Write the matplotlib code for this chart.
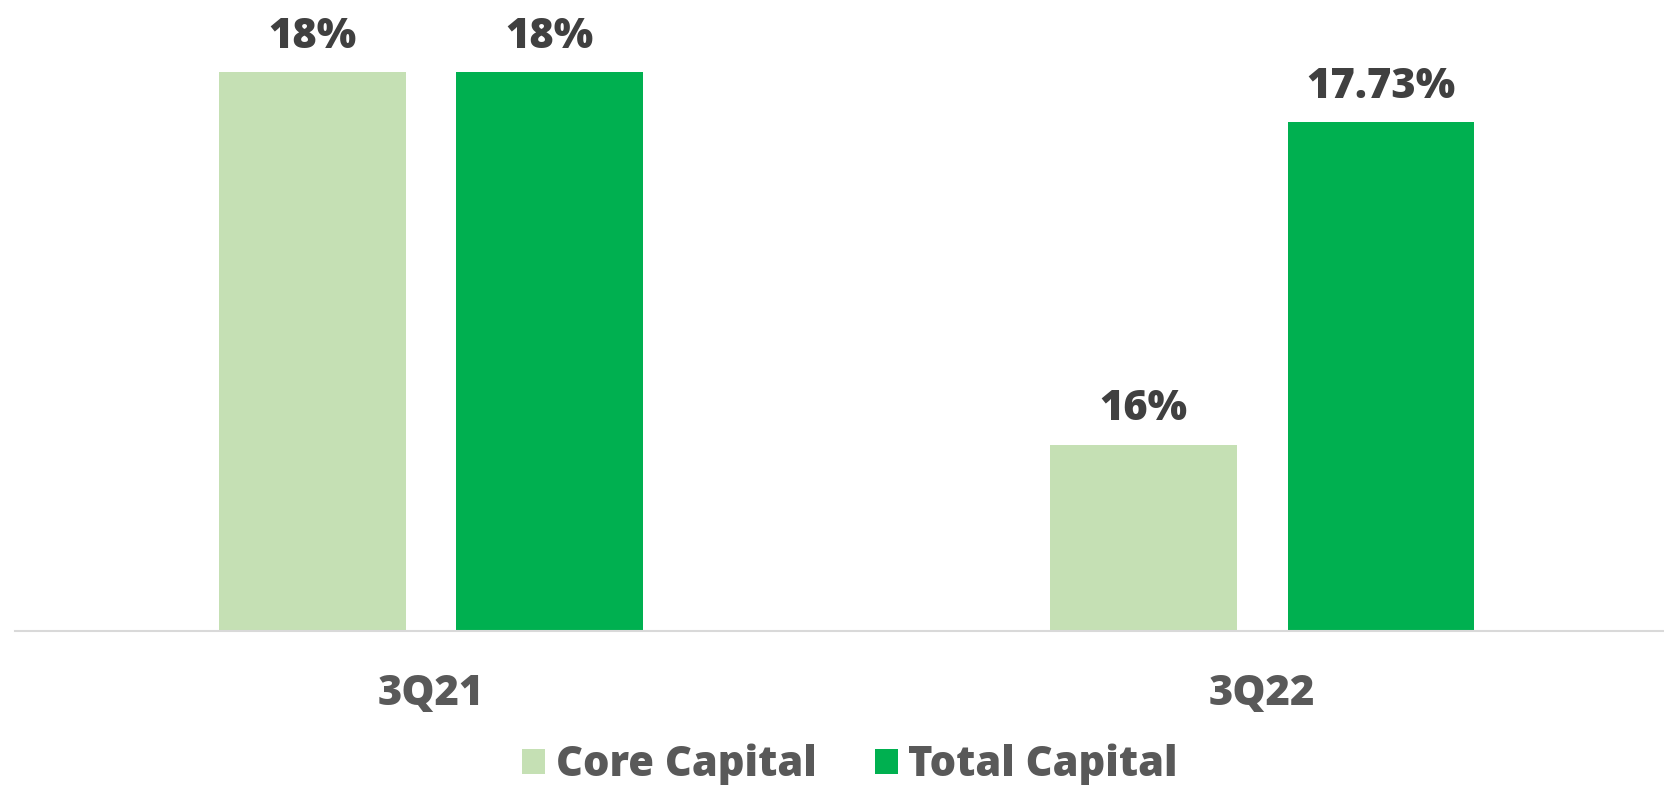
import matplotlib
matplotlib.use('Agg')
import matplotlib.pyplot as plt
import numpy as np

quarters = ["3Q21", "3Q22"]
core_capital = [18.0, 16.0]
total_capital = [18.0, 17.73]
core_labels = ["18%", "16%"]
total_labels = ["18%", "17.73%"]

plt.rcParams['font.family'] = ['Open Sans', 'DejaVu Sans']
W = "heavy"

fig = plt.figure(figsize=(16.64, 7.85), dpi=100)
ax = fig.add_axes([15/1664, 154/785, 1649/1664, 631/785])

x = np.arange(len(quarters))
width = 0.2246
gap = 0.0606
off = (width + gap) / 2

b1 = ax.bar(x - off, core_capital, width, color="#C5E0B4", label="Core Capital")
b2 = ax.bar(x + off, total_capital, width, color="#00B050", label="Total Capital")

# value labels above each bar
for bars, labels in [(b1, core_labels), (b2, total_labels)]:
    for rect, lab in zip(bars, labels):
        ax.annotate(lab, (rect.get_x() + rect.get_width() / 2, rect.get_height()),
                    xytext=(0, 10.5), textcoords="offset points",
                    ha="center", va="bottom", fontsize=30, fontweight=W,
                    color="#404040")

ax.set_ylim(15, 15 + 631 / 186.3)
ax.set_xlim(-0.5, 1.483)
ax.set_yticks([])
ax.set_xticks(x)
ax.set_xticklabels(quarters, fontsize=30, fontweight=W, color="#595959")
ax.tick_params(axis="x", length=0, pad=30)
for s in ["top", "right", "left"]:
    ax.spines[s].set_visible(False)
ax.spines["bottom"].set_color("#D9D9D9")
ax.spines["bottom"].set_linewidth(1.5)

leg = fig.legend(handles=[b1, b2], loc="center", bbox_to_anchor=(850/1664, 0.026),
                 ncol=2, frameon=False, handlelength=0.55, handleheight=0.55,
                 handletextpad=0.25, columnspacing=1.4,
                 prop={"size": 30, "weight": W})
for t in leg.get_texts():
    t.set_color("#595959")

plt.savefig("out.png", dpi=100)
